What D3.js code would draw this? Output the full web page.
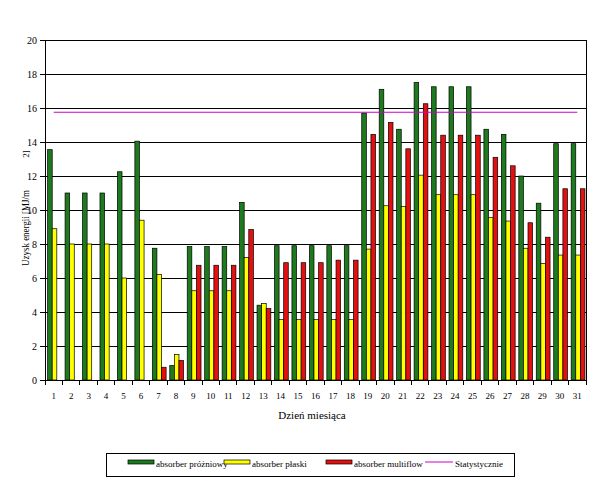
<!DOCTYPE html>
<html><head><meta charset="utf-8">
<script src="https://cdn.jsdelivr.net/npm/d3@7"></script>
<style>body{margin:0;background:#fff}svg{display:block}text{font-family:"Liberation Serif","Times New Roman",serif;fill:#000}</style>
</head><body>
<script>
const days = d3.range(1, 32).map(String);
const prozniowy = [13.55,11,11,11,12.25,14.05,7.75,0.85,7.85,7.85,7.85,10.45,4.4,7.9,7.9,7.9,7.9,7.9,15.7,17.1,14.75,17.5,17.25,17.25,17.25,14.75,14.45,12,10.4,13.9,13.9];
const plaski    = [8.9,8,8,8,6,9.4,6.2,1.5,5.25,5.25,5.25,7.2,4.5,3.55,3.55,3.55,3.55,3.55,7.7,10.25,10.2,12.05,10.9,10.9,10.9,9.55,9.35,7.75,6.85,7.35,7.35];
const multiflow = [0,0,0,0,0,0,0.75,1.15,6.75,6.75,6.75,8.85,4.2,6.9,6.9,6.9,7.05,7.05,14.45,15.15,13.6,16.25,14.4,14.4,14.4,13.1,12.6,9.25,8.4,11.25,11.25];
const statystycznie = 15.75;
const yTicks = d3.range(0, 21, 2);
const seriesNames = ["absorber próżniowy", "absorber płaski", "absorber multiflow"];
const lineName = "Statystycznie";
const colors = ["#1d7a1d", "#ffff00", "#e31010"];
const lineColor = "#cc00cc";

const W = 606, H = 492;
const svg = d3.select("body").append("svg").attr("width", W).attr("height", H);

const x = d3.scaleBand().domain(days).range([45, 586]).padding(0);
const bw = x.bandwidth();
const xs = d3.scaleBand().domain([0,1,2]).range([bw*0.15, bw*0.94]).padding(0);
const y = d3.scaleLinear().domain([0, 20]).range([380, 40]);

// gridlines
svg.append("g").selectAll("line").data(yTicks.filter(t => t > 0)).join("line")
  .attr("x1", 45).attr("x2", 586).attr("y1", d => y(d)).attr("y2", d => y(d))
  .attr("stroke", "#000").attr("stroke-width", 1).attr("shape-rendering", "crispEdges");
// right border
svg.append("line").attr("x1", 586).attr("x2", 586).attr("y1", y(20)).attr("y2", y(0))
  .attr("stroke", "#000").attr("shape-rendering", "crispEdges");

// bars
const data = [prozniowy, plaski, multiflow];
data.forEach((vals, si) => {
  svg.append("g").selectAll("rect").data(vals.map((v, i) => ({v, day: days[i]})).filter(d => d.v > 0)).join("rect")
    .attr("x", d => x(d.day) + xs(si))
    .attr("width", xs.bandwidth())
    .attr("y", d => y(d.v))
    .attr("height", d => y(0) - y(d.v))
    .attr("fill", colors[si])
    .attr("stroke", "#000").attr("stroke-width", 0.7);
});

// statystycznie line
svg.append("path")
  .datum(days)
  .attr("d", d3.line().x(d => x(d) + bw/2).y(() => y(statystycznie)))
  .attr("fill", "none").attr("stroke", lineColor).attr("stroke-width", 1.2);

// y axis
const yAxis = d3.axisLeft(y).tickValues(yTicks).tickSize(5).tickPadding(3).tickFormat(d3.format("d"));
const gy = svg.append("g").attr("transform", "translate(45,0)").call(yAxis);
gy.select(".domain").attr("stroke", "#000").attr("shape-rendering", "crispEdges");
gy.selectAll(".tick line").attr("stroke", "#000").attr("shape-rendering", "crispEdges");
gy.selectAll("text").style("font-family", "Liberation Serif").style("font-size", "10px").attr("fill", "#000");

// x axis
const xAxis = d3.axisBottom(x).tickSize(0).tickPadding(13);
const gx = svg.append("g").attr("transform", "translate(0,380)").call(xAxis);
gx.select(".domain").attr("stroke", "#000").attr("shape-rendering", "crispEdges");
gx.selectAll("text").style("font-family", "Liberation Serif").style("font-size", "9px").attr("fill", "#000");
// boundary ticks
const bounds = days.map(d => x(d)).concat([x(days[days.length-1]) + bw]);
svg.append("g").selectAll("line").data(bounds).join("line")
  .attr("x1", d => d).attr("x2", d => d)
  .attr("y1", 380).attr("y2", 385)
  .attr("stroke", "#000").attr("shape-rendering", "crispEdges");

// axis titles
svg.append("text").attr("x", 312).attr("y", 419).attr("text-anchor", "middle")
  .style("font-size", "11px").text("Dzień miesiąca");
svg.append("text").attr("transform", "translate(29,228) rotate(-90)").attr("text-anchor", "middle")
  .style("font-size", "11px").attr("textLength", 76).attr("lengthAdjust", "spacingAndGlyphs")
  .text("Uzysk energii [MJ/m");
svg.append("text").attr("transform", "translate(29,154) rotate(-90)").attr("text-anchor", "middle")
  .style("font-size", "9px").text("2]");

// legend
const lg = svg.append("g");
lg.append("rect").attr("x", 106.5).attr("y", 453.5).attr("width", 408).attr("height", 23)
  .attr("fill", "#fff").attr("stroke", "#000").attr("stroke-width", 1);
const lx = [128, 224, 326];
seriesNames.forEach((n, i) => {
  lg.append("rect").attr("x", lx[i]).attr("y", 460).attr("width", 26).attr("height", 4)
    .attr("fill", colors[i]).attr("stroke", "#000").attr("stroke-width", 0.7);
  lg.append("text").attr("x", lx[i] + 28).attr("y", 467).style("font-size", "9px").text(n);
});
lg.append("line").attr("x1", 425).attr("x2", 453).attr("y1", 462).attr("y2", 462)
  .attr("stroke", lineColor).attr("stroke-width", 1);
lg.append("text").attr("x", 455).attr("y", 467).style("font-size", "9px").text(lineName);
</script>
</body></html>
